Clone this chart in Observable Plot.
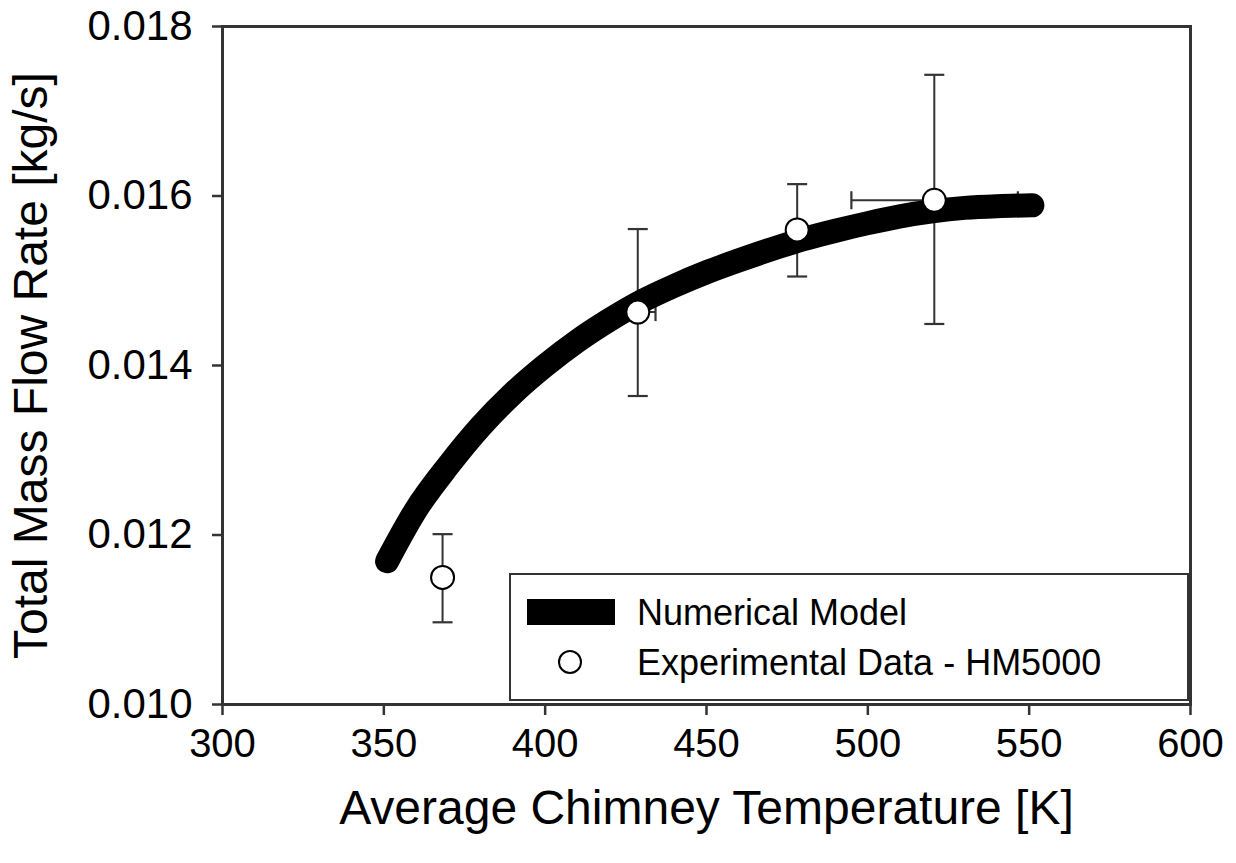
<!DOCTYPE html>
<html>
<head>
<meta charset="utf-8">
<script src="https://cdn.jsdelivr.net/npm/d3@7"></script>
<script src="https://cdn.jsdelivr.net/npm/@observablehq/plot@0.6"></script>
<style>
  html, body { margin: 0; padding: 0; background: #fff; }
  #wrap { position: relative; width: 1236px; height: 863px; font-family: "Liberation Sans", Arial, sans-serif; }
  #legend { position: absolute; left: 509px; top: 573px; width: 676px; height: 124px; border: 2.5px solid #333; background: #fff; box-sizing: content-box; }
  #legend svg { position: absolute; left: 0; top: 0; }
</style>
</head>
<body>
<div id="wrap"></div>
<script>
// Numerical model curve
const modelT = [351, 360, 370, 380, 390, 400, 410, 420, 430, 440, 450, 460, 470, 480, 490, 500, 510, 520, 530, 540, 551];
const modelM = [0.01169, 0.01230, 0.01282, 0.01328, 0.01367, 0.01400, 0.01429, 0.01454, 0.01476, 0.01494, 0.01510, 0.01524, 0.01537, 0.01549, 0.01559, 0.01568, 0.01576, 0.01582, 0.01586, 0.01588, 0.01589];

// Experimental data - HM5000
const expT    = [368.2, 428.7, 478.1, 520.6];
const expM    = [0.01150, 0.01463, 0.01560, 0.01595];
const expMlo  = [0.01097, 0.01364, 0.01505, 0.01449];
const expMhi  = [0.01201, 0.01561, 0.01614, 0.01743];
const expTlo  = [null, 423.2, null, 494.9];
const expThi  = [null, 434.2, null, 546.5];

const xTicks = [300, 350, 400, 450, 500, 550, 600];
const yTicks = [0.010, 0.012, 0.014, 0.016, 0.018];

const seriesNames = ["Numerical Model", "Experimental Data - HM5000"];

const model = modelT.map((t, i) => ({t, m: modelM[i]}));
const exp = expT.map((t, i) => ({t, m: expM[i], lo: expMlo[i], hi: expMhi[i], tlo: expTlo[i], thi: expThi[i]}));
const expX = exp.filter(d => d.tlo != null);

const hCap = {draw(ctx) { ctx.moveTo(-10, 0); ctx.lineTo(10, 0); }};
const vCap = {draw(ctx) { ctx.moveTo(0, -9); ctx.lineTo(0, 9); }};

const ink = "#333";
const plot = Plot.plot({
  width: 1236,
  height: 863,
  marginLeft: 222,
  marginRight: 46,
  marginTop: 26,
  marginBottom: 159,
  style: {fontFamily: "Liberation Sans, Arial, sans-serif", background: "#fff", color: "#000"},
  x: {domain: [300, 600]},
  y: {domain: [0.010, 0.018]},
  marks: [
    // error bars
    Plot.ruleX(exp, {x: "t", y1: "lo", y2: "hi", stroke: ink, strokeWidth: 2}),
    Plot.dot(exp, {x: "t", y: "lo", symbol: hCap, stroke: ink, strokeWidth: 2.2}),
    Plot.dot(exp, {x: "t", y: "hi", symbol: hCap, stroke: ink, strokeWidth: 2.2}),
    Plot.ruleY(expX, {y: "m", x1: "tlo", x2: "thi", stroke: ink, strokeWidth: 2}),
    Plot.dot(expX, {x: "tlo", y: "m", symbol: vCap, stroke: ink, strokeWidth: 2.2}),
    Plot.dot(expX, {x: "thi", y: "m", symbol: vCap, stroke: ink, strokeWidth: 2.2}),
    // model curve
    Plot.line(model, {x: "t", y: "m", stroke: "#000", strokeWidth: 24, strokeLinecap: "round", strokeLinejoin: "round", curve: "monotone-x"}),
    // experimental points
    Plot.dot(exp, {x: "t", y: "m", r: 11.5, fill: "#fff", stroke: "#000", strokeWidth: 2}),
    // axes
    Plot.axisX({ticks: xTicks, tickSize: 11, tickPadding: 13, fontSize: 40, stroke: ink, strokeWidth: 2.5,
      label: "Average Chimney Temperature [K]", labelAnchor: "center", labelArrow: "none", labelOffset: 119}),
    Plot.axisY({ticks: yTicks, tickSize: 10, tickPadding: 20, fontSize: 42, stroke: ink, strokeWidth: 2.5,
      tickFormat: d3.format(".3f"),
      label: "Total Mass Flow Rate [kg/s]", labelAnchor: "center", labelArrow: "none", labelOffset: 210}),
    Plot.frame({stroke: ink, strokeWidth: 3})
  ]
});

// enlarge axis titles
d3.select(plot).selectAll("g[aria-label='x-axis label'] text, g[aria-label='y-axis label'] text")
  .attr("font-size", 48);
d3.select(plot).selectAll("g[aria-label$='tick label'] text").attr("fill", "#000");

const wrap = document.getElementById("wrap");
wrap.appendChild(plot);

// legend (inside plot area)
const legend = document.createElement("div");
legend.id = "legend";
wrap.appendChild(legend);
const ls = d3.select(legend).append("svg").attr("width", 676).attr("height", 124);
ls.append("rect").attr("x", 16).attr("y", 24).attr("width", 88).attr("height", 26).attr("fill", "#000");
ls.append("circle").attr("cx", 59).attr("cy", 87).attr("r", 11).attr("fill", "#fff").attr("stroke", "#000").attr("stroke-width", 2);
ls.selectAll("text").data(seriesNames).join("text")
  .attr("x", 126)
  .attr("y", (d, i) => i === 0 ? 37 : 87)
  .attr("dy", "0.35em")
  .attr("font-size", 36)
  .attr("font-family", "Liberation Sans, Arial, sans-serif")
  .attr("fill", "#000")
  .text(d => d);
</script>
</body>
</html>
